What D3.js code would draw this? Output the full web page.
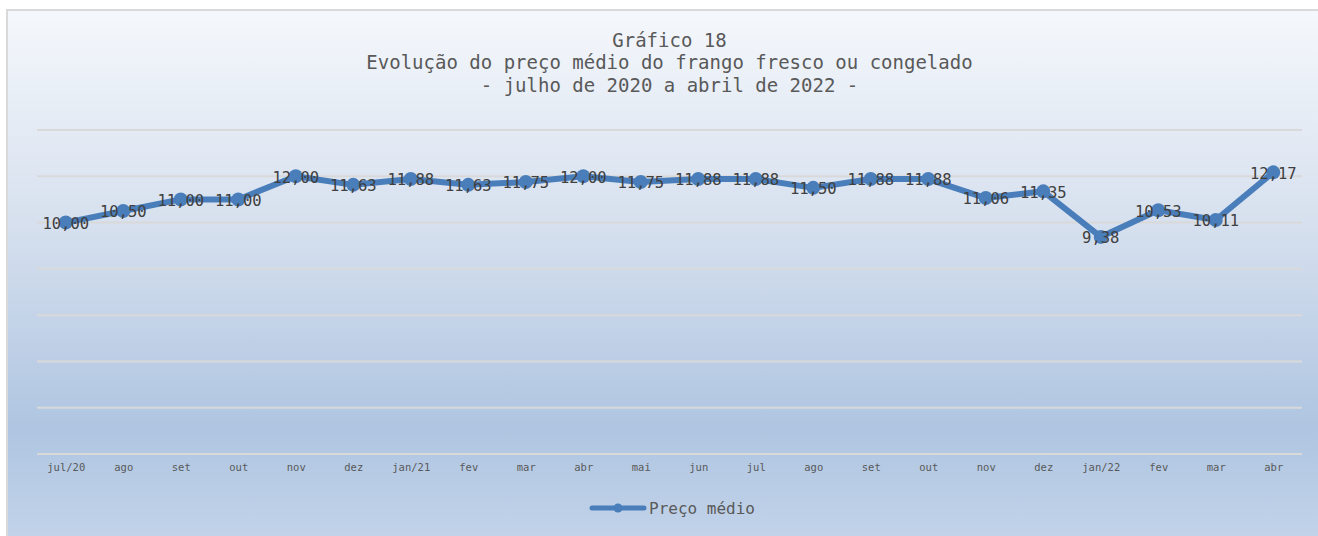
<!DOCTYPE html>
<html lang="pt">
<head>
  <meta charset="UTF-8">
  <title>Gráfico 18</title>
  <script src="https://cdn.jsdelivr.net/npm/d3@7"></script>
  <style>
    html, body { margin: 0; padding: 0; background: #fff; overflow: hidden; }
    svg { display: block; }
  </style>
</head>
<body>
  <script>

    // data
    var months = ["jul/20", "ago", "set", "out", "nov", "dez", "jan/21", "fev", "mar", "abr", "mai",
                  "jun", "jul", "ago", "set", "out", "nov", "dez", "jan/22", "fev", "mar", "abr"];
    var prices = [10.00, 10.50, 11.00, 11.00, 12.00, 11.63, 11.88, 11.63, 11.75, 12.00, 11.75,
                  11.88, 11.88, 11.50, 11.88, 11.88, 11.06, 11.35, 9.38, 10.53, 10.11, 12.17];
    var yTicks = [0, 2, 4, 6, 8, 10, 12, 14];
    var titleLines = ["Gráfico 18",
                      "Evolução do preço médio do frango fresco ou congelado",
                      "- julho de 2020 a abril de 2022 -"];
    var seriesName = "Preço médio";

    var width = 1318;
    var height = 536;
    var margin = { top: 130, right: 16, bottom: 82, left: 37 };
    var font = "'DejaVu Sans Mono', 'Liberation Mono', monospace";
    var blue = "#4a7ebb";

    var svg = d3.select("body")
      .append("svg")
        .attr("width", width)
        .attr("height", height);

    // background gradient like the office chart style
    var grad = svg.append("defs")
      .append("linearGradient")
        .attr("id", "bg")
        .attr("x1", 0).attr("y1", 0)
        .attr("x2", 0).attr("y2", 1);
    grad.append("stop").attr("offset", "0%").attr("stop-color", "#f5f8fc");
    grad.append("stop").attr("offset", "40%").attr("stop-color", "#d6e0ee");
    grad.append("stop").attr("offset", "78%").attr("stop-color", "#afc5e1");
    grad.append("stop").attr("offset", "100%").attr("stop-color", "#c3d4ea");

    // chart area runs off the right and bottom edges of the picture
    svg.append("rect")
      .attr("x", 7)
      .attr("y", 10)
      .attr("width", width)
      .attr("height", height)
      .attr("fill", "url(#bg)")
      .attr("stroke", "#d9d9d9")
      .attr("stroke-width", 2);

    var x = d3.scalePoint()
      .domain(d3.range(months.length))
      .range([margin.left, width - margin.right])
      .padding(0.5);

    var y = d3.scaleLinear()
      .domain([0, 14])
      .range([height - margin.bottom, margin.top]);

    // gridlines
    svg.append("g")
      .selectAll("line")
      .data(yTicks)
      .enter()
      .append("line")
        .attr("x1", margin.left)
        .attr("x2", width - margin.right)
        .attr("y1", function(d) { return y(d); })
        .attr("y2", function(d) { return y(d); })
        .attr("stroke", "#d9d9d9")
        .attr("stroke-width", 2);

    // x axis labels
    var xAxis = d3.axisBottom(x)
      .tickSize(0)
      .tickPadding(10)
      .tickFormat(function(i) { return months[i]; });

    var gx = svg.append("g")
      .attr("transform", "translate(0," + y(0) + ")")
      .call(xAxis);
    gx.select(".domain").remove();
    gx.selectAll("text")
      .attr("font-family", font)
      .attr("font-size", 10.5)
      .attr("fill", "#595959");

    // title
    svg.append("g")
      .selectAll("text")
      .data(titleLines)
      .enter()
      .append("text")
        .attr("x", (margin.left + width - margin.right) / 2)
        .attr("y", function(d, i) { return 40 + i * 22.5; })
        .attr("dy", "0.35em")
        .attr("text-anchor", "middle")
        .attr("font-family", font)
        .attr("font-size", 19)
        .attr("fill", "#595959")
        .text(function(d) { return d; });

    // the series
    var line = d3.line()
      .x(function(d, i) { return x(i); })
      .y(function(d) { return y(d); });

    svg.append("path")
      .datum(prices)
      .attr("d", line)
      .attr("fill", "none")
      .attr("stroke", blue)
      .attr("stroke-width", 6)
      .attr("stroke-linejoin", "round")
      .attr("stroke-linecap", "round");

    svg.append("g")
      .selectAll("circle")
      .data(prices)
      .enter()
      .append("circle")
        .attr("cx", function(d, i) { return x(i); })
        .attr("cy", function(d) { return y(d); })
        .attr("r", 7)
        .attr("fill", blue);

    var fmt = d3.format(".2f");
    svg.append("g")
      .selectAll("text")
      .data(prices)
      .enter()
      .append("text")
        .attr("x", function(d, i) { return x(i); })
        .attr("y", function(d) { return y(d) + 1; })
        .attr("dy", "0.35em")
        .attr("text-anchor", "middle")
        .attr("font-family", font)
        .attr("font-size", 15.5)
        .attr("fill", "#404040")
        .text(function(d) { return fmt(d).replace(".", ","); });

    // legend
    var legend = svg.append("g")
      .attr("transform", "translate(0,508)");
    legend.append("line")
      .attr("x1", 592)
      .attr("x2", 644)
      .attr("stroke", blue)
      .attr("stroke-width", 5)
      .attr("stroke-linecap", "round");
    legend.append("circle")
      .attr("cx", 618)
      .attr("r", 4.5)
      .attr("fill", blue);
    legend.append("text")
      .attr("x", 649)
      .attr("dy", "0.35em")
      .attr("font-family", font)
      .attr("font-size", 16)
      .attr("fill", "#595959")
      .text(seriesName);

  </script>
</body>
</html>
